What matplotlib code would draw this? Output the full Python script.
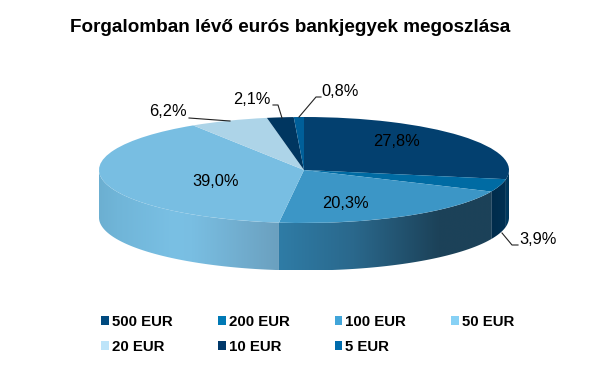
import numpy as np
import matplotlib
matplotlib.use("Agg")
import matplotlib.pyplot as plt
from matplotlib.colors import LinearSegmentedColormap
from matplotlib.lines import Line2D
from matplotlib.patches import Patch, Polygon
from matplotlib.transforms import Affine2D

plt.rcParams['font.family'] = ['Liberation Sans', 'DejaVu Sans']

title = "Forgalomban lévő eurós bankjegyek megoszlása"
categories = ["500 EUR", "200 EUR", "100 EUR", "50 EUR", "20 EUR", "10 EUR", "5 EUR"]
values = [27.8, 3.9, 20.3, 39.0, 6.2, 2.1, 0.8]
top_colors = ["#03406f", "#006ba3", "#3c96c6", "#78bee2", "#add4e8", "#003660", "#005f99"]
legend_colors = ["#004a7f", "#0079b5", "#41a5d9", "#87d1f5", "#bde4f9", "#00386a", "#006cac"]
side_stops = [
    [(0, "#003a5f"), (1, "#003558")],
    [(0, "#002c4c"), (1, "#003052")],
    [(0, "#2f7ca6"), (0.35, "#2a688c"), (0.75, "#1c4259"), (1, "#1c4158")],
    [(0, "#6cafd1"), (0.1, "#70b5d8"), (0.42, "#7ac0e4"), (0.52, "#79bee2"), (1, "#6ba0bf")],
    [(0, "#add4e8"), (1, "#add4e8")],
    [(0, "#003660"), (1, "#003660")],
    [(0, "#005f99"), (1, "#005f99")],
]

W, H = 610, 368
CX, CY, RX, RY, DEPTH = 304, 170, 205, 53, 47.5

fig = plt.figure(figsize=(W / 100, H / 100), dpi=100, facecolor="white")
ax = fig.add_axes([0, 0, 1, 1])
px = Affine2D().scale(1 / W, -1 / H).translate(0, 1) + fig.transFigure

wedges, _ = ax.pie(values, startangle=90, counterclock=False, colors=top_colors,
                   wedgeprops=dict(linewidth=0), normalize=True)
for w in wedges:
    w.set_zorder(5)
ax.set_aspect("auto")
xlim = (-CX / RX, (W - CX) / RX)
ylim = ((CY - H) / RY, CY / RY)
depth = DEPTH / RY

# side wall, taken from the same wedge angles
fractions = np.array(values) / np.sum(values)
edges = 90 - 360 * np.concatenate([[0], np.cumsum(fractions)])
for t_start, t_end, stops in zip(edges[:-1], edges[1:], side_stops):
    lo, hi = max(t_end, -180), min(t_start, 0)   # visible front half
    if hi <= lo:
        continue
    th = np.radians(np.linspace(lo, hi, 120))
    xs, ys = np.cos(th), np.sin(th)
    pts = np.column_stack([np.r_[xs, xs[::-1]], np.r_[ys, ys[::-1] - depth]])
    clip = Polygon(pts, closed=True, transform=ax.transData)
    cmap = LinearSegmentedColormap.from_list("side", stops)
    im = ax.imshow(np.linspace(0, 1, 256)[None, :], cmap=cmap, vmin=0, vmax=1,
                   extent=(xs.min(), xs.max(), -1 - depth, 0), aspect="auto",
                   interpolation="bilinear", zorder=3)
    im.set_clip_path(clip)

ax.set_xlim(xlim)
ax.set_ylim(ylim)
ax.axis("off")

# text and leaders, in pixel layout
FS = 11.8
LEG_FS = 10.8
label_pos = [(397, 142), (538, 240), (345, 204), (216, 181), (168, 112), (252, 100), (340, 91)]
leaders = {
    1: [(502, 233), (512, 245), (518, 245)],
    4: [(189, 118), (230, 121)],
    5: [(273, 105), (278, 105), (282, 118)],
    6: [(321, 97), (316, 97), (299, 117)],
}
for v, (x, y) in zip(values, label_pos):
    fig.text(x, y, f"{v:.1f}%".replace(".", ","), transform=px, fontsize=FS,
             ha="center", va="center", color="black", zorder=10)
for pts in leaders.values():
    xs, ys = zip(*pts)
    fig.add_artist(Line2D(xs, ys, transform=px, color="#222222", lw=0.8, zorder=9))

fig.text(290, 27, title, transform=px, fontsize=13.55, fontweight="bold",
         ha="center", va="center", color="black")

order = [0, 4, 1, 5, 2, 6, 3]
handles = [Patch(facecolor=legend_colors[i], edgecolor="none", label=categories[i]) for i in order]
leg = fig.legend(handles=handles, ncol=4, loc="upper left", bbox_to_anchor=(101 / W, 1 - 315 / H),
                 bbox_transform=fig.transFigure, frameon=False, borderpad=0, borderaxespad=0,
                 handlelength=0.53, handleheight=0.5, handletextpad=0.2, columnspacing=3.0,
                 labelspacing=0.72, prop=dict(size=LEG_FS, weight="bold", family="Liberation Sans"))

fig.savefig("out.png", dpi=100, facecolor="white")
